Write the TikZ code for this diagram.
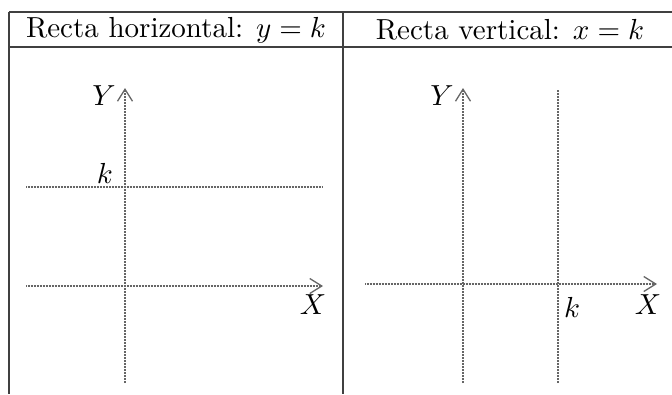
\documentclass[tikz,border=0pt]{standalone}
\usetikzlibrary{arrows.meta}
\newcommand{\bigtxt}[1]{\scalebox{2.9}{#1}}
\begin{document}
\begin{tikzpicture}[x=1pt,y=-1pt,
  rule/.style={draw=black!75,line width=1.4pt},
  axis/.style={draw=black!60,line width=1.3pt,dash pattern=on 1pt off 0.5pt},
  arr/.style={-{Straight Barb[length=12pt,width=15pt,line width=1.3pt]}},
  lbl/.style={inner sep=0pt},
  head/.style={inner sep=0pt}]
\useasboundingbox (0,0) rectangle (672,394);
% table
\coordinate (tl) at (9,12); \coordinate (tr) at (672,12);
\coordinate (hl) at (9,47); \coordinate (hr) at (672,47);
\coordinate (bl) at (9,394); \coordinate (tm) at (343,12); \coordinate (bm) at (343,394);
\draw[rule] (tl) -- (tr);
\draw[rule] (hl) -- (hr);
\draw[rule] (tl) -- (bl);
\draw[rule] (tm) -- (bm);
\node[head] (h1) at (176,30) {\bigtxt{Recta horizontal: $y=k$}};
\node[head] (h2) at (510,30) {\bigtxt{Recta vertical: $x=k$}};
% left panel
\coordinate (ly0) at (125,383); \coordinate (ly1) at (125,88);
\coordinate (lx0) at (26,286); \coordinate (lx1) at (323,286);
\coordinate (lk0) at (26,187); \coordinate (lk1) at (322,187);
\draw[axis,arr] (ly0) -- (ly1);
\draw[axis,arr] (lx0) -- (lx1);
\draw[axis] (lk0) -- (lk1);
\node[lbl] (lY) at (104,96) {\bigtxt{$Y$}};
\node[lbl] (lk) at (105,173) {\bigtxt{$k$}};
\node[lbl] (lX) at (313,305) {\bigtxt{$X$}};
% right panel
\coordinate (ry0) at (463,383); \coordinate (ry1) at (463,88);
\coordinate (rx0) at (365,284); \coordinate (rx1) at (657,284);
\coordinate (rk0) at (558,383); \coordinate (rk1) at (558,90);
\draw[axis,arr] (ry0) -- (ry1);
\draw[axis,arr] (rx0) -- (rx1);
\draw[axis] (rk0) -- (rk1);
\node[lbl] (rY) at (442,96) {\bigtxt{$Y$}};
\node[lbl] (rk) at (572,307) {\bigtxt{$k$}};
\node[lbl] (rX) at (648,305) {\bigtxt{$X$}};
\end{tikzpicture}
\end{document}
